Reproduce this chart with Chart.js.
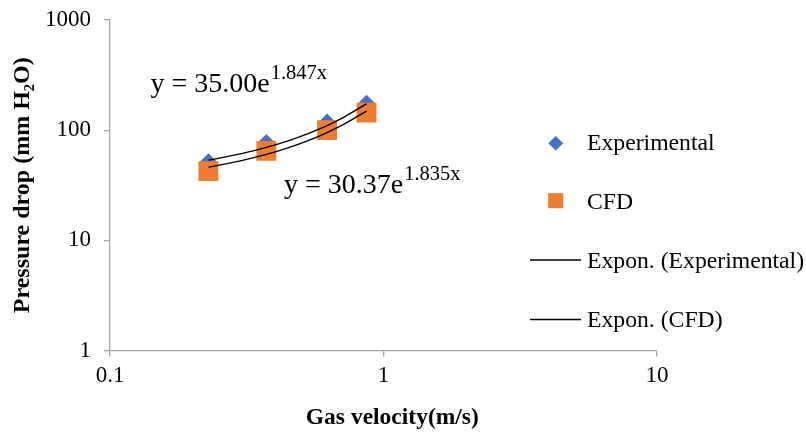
<!DOCTYPE html>
<html>
<head>
<meta charset="utf-8">
<script src="https://cdn.jsdelivr.net/npm/chart.js@4.4.1/dist/chart.umd.min.js"></script>
<style>
  html, body { margin: 0; padding: 0; background: #fff; }
  #wrap { width: 806px; height: 434px; position: relative; }
</style>
</head>
<body>
<div id="wrap"><canvas id="c" width="806" height="434"></canvas></div>
<script>
// ---- data ----
const gasVelocity = [0.229, 0.373, 0.622, 0.867];
const experimental = [50, 75, 115, 170];
const cfd = [42.5, 65, 100, 144];

// exponential trendline values (as drawn in the reference)
const trendX = [0.229, 0.30, 0.373, 0.45, 0.53, 0.622, 0.72, 0.867];
const trendExperimental = [53.4, 60.9, 69.7, 80.4, 93.2, 110.0, 132.3, 173.6];
const trendCFD = [46.2, 52.7, 60.2, 69.4, 80.3, 95.1, 113.8, 149.1];

const yTickValues = [1, 10, 100, 1000];
const xTickValues = [0.1, 1, 10];
const seriesNames = ['Experimental', 'CFD', 'Expon. (Experimental)', 'Expon. (CFD)'];
const equations = [
  { main: 'y = 35.00e', sup: '1.847x' },
  { main: 'y = 30.37e', sup: '1.835x' }
];

const FONT = "'Liberation Serif', 'Times New Roman', serif";
const BLUE = '#4472C4';
const ORANGE = '#ED7D31';
const AXIS = '#a6a6a6';

function pts(xs, ys) { return xs.map((x, i) => ({ x: x, y: ys[i] })); }

const overlay = {
  id: 'overlay',
  afterDraw(chart) {
    const ctx = chart.ctx;
    ctx.save();
    // trendline equations
    const eqPos = [
      { x: 150.5, y: 91.7 },
      { x: 284, y: 193.3 }
    ];
    ctx.fillStyle = '#000';
    ctx.textBaseline = 'alphabetic';
    ctx.textAlign = 'left';
    equations.forEach((eq, i) => {
      const p = eqPos[i];
      ctx.font = '28px ' + FONT;
      ctx.fillText(eq.main, p.x, p.y);
      const w = ctx.measureText(eq.main).width;
      ctx.font = '20.5px ' + FONT;
      ctx.fillText(eq.sup, p.x + w + 1, p.y - 13);
    });
    // legend
    const lx = 555.7, tx = 587;
    const baselines = [150, 209, 268, 327];
    ctx.fillStyle = BLUE;
    ctx.beginPath();
    const cy0 = 143.3;
    ctx.moveTo(lx, cy0 - 7.2);
    ctx.lineTo(lx + 7.5, cy0);
    ctx.lineTo(lx, cy0 + 7.2);
    ctx.lineTo(lx - 7.5, cy0);
    ctx.closePath();
    ctx.fill();
    ctx.fillStyle = ORANGE;
    ctx.fillRect(lx - 7.5, 200.7 - 7.5, 15, 15);
    ctx.strokeStyle = '#000';
    ctx.lineWidth = 1.3;
    [260, 319.5].forEach(y => {
      ctx.beginPath();
      ctx.moveTo(530, y);
      ctx.lineTo(581, y);
      ctx.stroke();
    });
    ctx.fillStyle = '#000';
    ctx.font = '23.7px ' + FONT;
    seriesNames.forEach((n, i) => ctx.fillText(n, tx, baselines[i]));
    ctx.restore();
  }
};

new Chart(document.getElementById('c'), {
  type: 'scatter',
  data: {
    datasets: [
      {
        label: seriesNames[2], type: 'line', data: pts(trendX, trendExperimental),
        borderColor: '#000', borderWidth: 1.4, pointRadius: 0, showLine: true,
        cubicInterpolationMode: 'monotone', fill: false, order: 0
      },
      {
        label: seriesNames[3], type: 'line', data: pts(trendX, trendCFD),
        borderColor: '#000', borderWidth: 1.4, pointRadius: 0, showLine: true,
        cubicInterpolationMode: 'monotone', fill: false, order: 0
      },
      {
        label: seriesNames[1], data: pts(gasVelocity, cfd),
        pointStyle: 'rect', pointRadius: 14, pointHoverRadius: 14,
        backgroundColor: ORANGE, borderColor: ORANGE, borderWidth: 0, order: 1
      },
      {
        label: seriesNames[0], data: pts(gasVelocity, experimental),
        pointStyle: 'rectRot', pointRadius: 10, pointHoverRadius: 10,
        backgroundColor: BLUE, borderColor: BLUE, borderWidth: 0, order: 2
      }
    ]
  },
  options: {
    responsive: false,
    animation: false,
    events: [],
    layout: { padding: { left: 0, right: 149, top: 20, bottom: 0 } },
    plugins: { legend: { display: false }, tooltip: { enabled: false } },
    scales: {
      x: {
        type: 'logarithmic', min: 0.1, max: 10,
        afterBuildTicks(s) { s.ticks = xTickValues.map(v => ({ value: v })); },
        afterFit(s) { s.height = 83.5; s.paddingLeft = 0; s.paddingRight = 0; },
        ticks: {
          color: '#000', font: { family: FONT, size: 23 }, padding: 6,
          maxRotation: 0, autoSkip: false,
          callback: (v) => String(v)
        },
        grid: { drawOnChartArea: false, drawTicks: true, tickLength: 6, color: AXIS, lineWidth: 1.3 },
        border: { color: AXIS, width: 1.3 },
        title: {
          display: true, text: '   Gas velocity(m/s)', color: '#000',
          font: { family: FONT, size: 23.5, weight: 'bold' }, padding: { top: 0, bottom: 2 }
        }
      },
      y: {
        type: 'logarithmic', min: 1, max: 1000,
        afterBuildTicks(s) { s.ticks = yTickValues.map(v => ({ value: v })); },
        afterFit(s) { s.width = 110; s.paddingTop = 0; s.paddingBottom = 0; },
        ticks: {
          color: '#000', font: { family: FONT, size: 23 }, padding: 13, autoSkip: false,
          callback: (v) => String(v)
        },
        grid: { drawOnChartArea: false, drawTicks: true, tickLength: 6, color: AXIS, lineWidth: 1.3 },
        border: { color: AXIS, width: 1.3 },
        title: {
          display: true, text: 'Pressure drop (mm H\u2082O)', color: '#000',
          font: { family: FONT, size: 24, weight: 'bold' }, padding: { top: 8, bottom: 0 }
        }
      }
    }
  },
  plugins: [overlay]
});
</script>
</body>
</html>
